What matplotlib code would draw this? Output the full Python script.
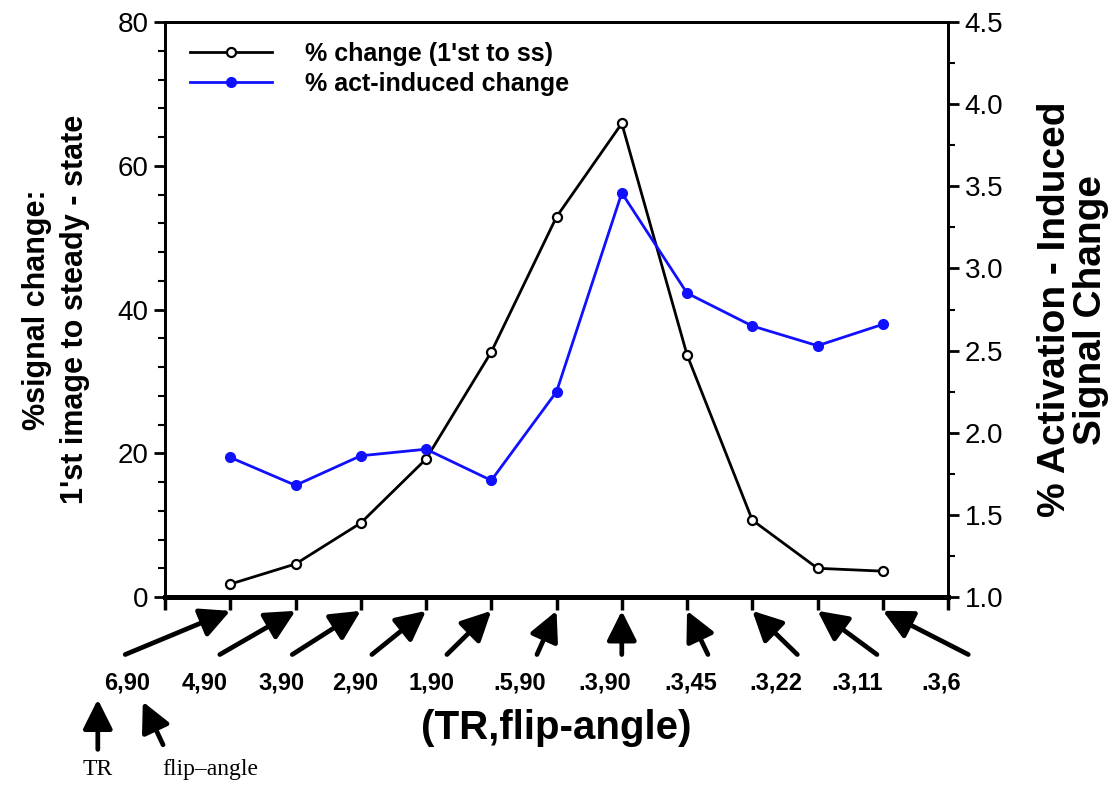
import numpy as np
import matplotlib
matplotlib.use("Agg")
import matplotlib.pyplot as plt
from matplotlib.ticker import MultipleLocator, FormatStrFormatter

plt.rcParams["font.family"] = ["Liberation Sans", "DejaVu Sans"]

# --- data
pos = np.arange(1, 12)
pct_change = [1.8, 4.6, 10.3, 19.2, 34.1, 52.9, 65.9, 33.7, 10.7, 4.0, 3.6]
act_change = [1.85, 1.68, 1.86, 1.90, 1.71, 2.25, 3.46, 2.85, 2.65, 2.53, 2.66]
settings = ["6,90", "4,90", "3,90", "2,90", "1,90", ".5,90", ".3,90",
            ".3,45", ".3,22", ".3,11", ".3,6"]

# --- layout of the setting labels / arrows (x in data units, y in axes fraction)
lab_x = [-0.58, 0.61, 1.78, 2.91, 4.09, 5.44, 6.74, 8.05, 9.36, 10.6, 11.9]
tail_x = [-0.61, 0.84, 1.95, 3.17, 4.32, 5.70, 7.0, 8.32, 9.69, 10.91, 12.31]
LAB_Y, TAIL_Y, HEAD_Y = -0.150, -0.100, -0.024
ARROW = dict(arrowstyle="-|>,head_length=0.6,head_width=0.3",
             mutation_scale=30, lw=3.4, color="black", shrinkA=0, shrinkB=0)

fig = plt.figure(figsize=(11.18, 7.89), dpi=100)
ax = fig.add_axes([0.1476, 0.2433, 0.7004, 0.7287])
ax2 = ax.twinx()

ax.plot(pos, pct_change, color="black", lw=2, marker="o", ms=6.5,
        mfc="white", mec="black", mew=1.6, label="% change (1'st to ss)", zorder=3)
ax2.plot(pos, act_change, color="#1010ff", lw=2, marker="o", ms=7,
         mfc="#1010ff", mec="#1010ff", label="% act-induced change", zorder=3)

ax.set_xlim(0, 12)
ax.set_ylim(0, 80)
ax2.set_ylim(1.0, 4.5)
ax.set_xticks(np.arange(0, 13))
ax.set_xticklabels([])
ax.yaxis.set_major_locator(MultipleLocator(20))
ax.yaxis.set_minor_locator(MultipleLocator(4))
ax2.yaxis.set_major_locator(MultipleLocator(0.5))
ax2.yaxis.set_minor_locator(MultipleLocator(0.25))
ax2.yaxis.set_major_formatter(FormatStrFormatter("%.1f"))

for a in (ax, ax2):
    a.tick_params(which="major", length=8, width=2, labelsize=20, pad=4)
    a.tick_params(which="minor", length=5, width=1.5)
    for s in a.spines.values():
        s.set_linewidth(2)
    a.spines["bottom"].set_linewidth(3.5)
ax.tick_params(axis="x", length=9, width=2.5)

ax.set_ylabel("%signal change:\n1'st image to steady - state",
              fontsize=22, fontweight="bold", labelpad=20, linespacing=1.35)
ax2.set_ylabel("% Activation - Induced\nSignal Change", fontsize=28,
               fontweight="bold", rotation=90, labelpad=24, linespacing=1.0)

h1, l1 = ax.get_legend_handles_labels()
h2, l2 = ax2.get_legend_handles_labels()
ax2.legend(h1 + h2, l1 + l2, loc="upper left", bbox_to_anchor=(0.003, 1.005),
           frameon=False, prop={"weight": "bold", "size": 18},
           handlelength=3.3, handletextpad=1.3, labelspacing=0.25)

# setting labels with arrows pointing at their tick
tr = ax.get_xaxis_transform()
for lab, lx, tx, px in zip(settings, lab_x, tail_x, pos):
    ax.text(lx, LAB_Y, lab, transform=tr, ha="center", va="center",
            fontsize=17, fontweight="bold")
    ax.annotate("", xy=(px, HEAD_Y), xycoords=tr, xytext=(tx, TAIL_Y),
                textcoords=tr, annotation_clip=False, arrowprops=ARROW)

ax.text(6.0, -0.228, "(TR,flip-angle)", transform=tr, ha="center", va="center",
        fontsize=29, fontweight="bold")

# TR / flip-angle key
serif = ["Liberation Serif", "DejaVu Serif"]
ax.annotate("", xy=(-1.03, -0.178), xycoords=tr, xytext=(-1.03, -0.265),
            textcoords=tr, annotation_clip=False, arrowprops=ARROW)
ax.annotate("", xy=(-0.34, -0.182), xycoords=tr, xytext=(-0.03, -0.257),
            textcoords=tr, annotation_clip=False, arrowprops=ARROW)
ax.text(-1.03, -0.300, "TR", transform=tr, ha="center", va="center",
        fontsize=17, family=serif)
ax.text(0.69, -0.300, "flip\u2013angle", transform=tr, ha="center", va="center",
        fontsize=17, family=serif)

fig.savefig("out.png", dpi=100)
